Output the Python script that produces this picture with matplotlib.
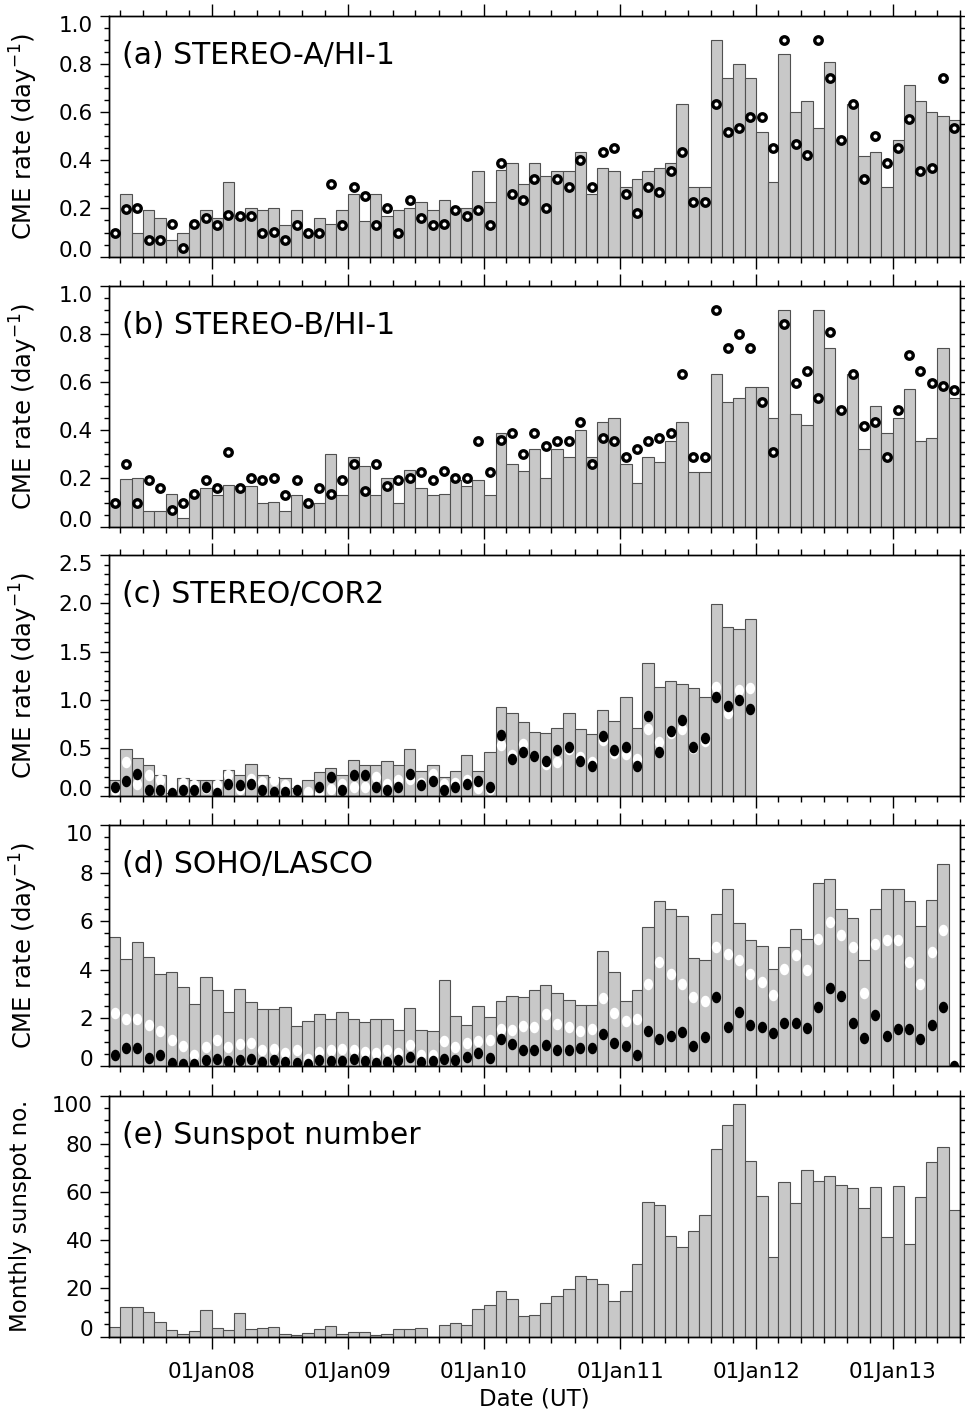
import numpy as np
import pandas as pd
import matplotlib
matplotlib.use("Agg")
import matplotlib.pyplot as plt
import matplotlib.dates as mdates
from matplotlib.path import Path
from matplotlib.transforms import Affine2D
from matplotlib.ticker import MultipleLocator, NullLocator, FormatStrFormatter

# monthly bins, Apr 2007 .. Jun 2013
months = pd.date_range("2007-04-01", "2013-06-01", freq="MS")

# HI-1 CME rates (day^-1); bars of (a) / circles of (b) and vice versa
hi1a = [0.10, 0.26, 0.10, 0.195, 0.16, 0.07, 0.10, 0.135, 0.195, 0.16,
        0.31, 0.16, 0.20, 0.195, 0.20, 0.13, 0.195, 0.10, 0.16, 0.137,
        0.195, 0.26, 0.147, 0.26, 0.167, 0.195, 0.20, 0.228, 0.195, 0.233,
        0.20, 0.20, 0.354, 0.228, 0.358, 0.387, 0.30, 0.387, 0.335, 0.354,
        0.354, 0.434, 0.26, 0.367, 0.354, 0.29, 0.323, 0.354, 0.367, 0.387,
        0.632, 0.29, 0.29, 0.898, 0.74, 0.798, 0.74, 0.516, 0.31, 0.84,
        0.598, 0.647, 0.532, 0.806, 0.484, 0.632, 0.419, 0.434, 0.29, 0.484,
        0.714, 0.647, 0.598, 0.582, 0.567]
hi1b = [0.10, 0.196, 0.20, 0.067, 0.067, 0.137, 0.035, 0.137, 0.16, 0.13,
        0.173, 0.167, 0.167, 0.10, 0.103, 0.067, 0.13, 0.10, 0.10, 0.30,
        0.13, 0.29, 0.252, 0.13, 0.20, 0.10, 0.235, 0.16, 0.13, 0.137,
        0.195, 0.167, 0.195, 0.13, 0.39, 0.26, 0.233, 0.323, 0.20, 0.323,
        0.29, 0.40, 0.29, 0.434, 0.452, 0.26, 0.18, 0.29, 0.268, 0.355,
        0.434, 0.228, 0.228, 0.632, 0.516, 0.533, 0.58, 0.58, 0.45, 0.90,
        0.466, 0.42, 0.898, 0.74, 0.484, 0.632, 0.323, 0.50, 0.387, 0.452,
        0.572, 0.355, 0.367, 0.74, 0.533]

# COR2 (Apr 2007 .. Dec 2011)
cor2_all = [0.17, 0.49, 0.40, 0.32, 0.22, 0.03, 0.19, 0.165, 0.165, 0.165,
            0.275, 0.22, 0.33, 0.22, 0.20, 0.19, 0.09, 0.17, 0.255, 0.295,
            0.22, 0.38, 0.32, 0.32, 0.36, 0.32, 0.49, 0.26, 0.32, 0.20,
            0.26, 0.43, 0.26, 0.455, 0.927, 0.865, 0.767, 0.67, 0.66, 0.708,
            0.865, 0.694, 0.649, 0.899, 0.778, 1.028, 0.708, 1.385, 1.128, 1.19,
            1.163, 1.118, 1.028, 1.997, 1.75, 1.736, 1.837]
cor2_black = [0.094, 0.156, 0.226, 0.066, 0.066, 0.03, 0.066, 0.066, 0.094, 0.03,
              0.128, 0.121, 0.128, 0.066, 0.042, 0.042, 0.066, np.nan, 0.094, 0.198,
              0.066, 0.215, 0.215, 0.094, 0.066, 0.094, 0.226, 0.121, 0.156, 0.066,
              0.094, 0.128, 0.156, 0.094, 0.639, 0.382, 0.458, 0.413, 0.365, 0.476,
              0.51, 0.365, 0.316, 0.625, 0.476, 0.51, 0.316, 0.833, 0.458, 0.674,
              0.795, 0.51, 0.608, 1.024, 0.934, 0.997, 0.903]
cor2_white = [0.06, 0.354, 0.128, 0.22, 0.165, np.nan, 0.14, 0.118, 0.08, 0.118,
              0.22, 0.076, 0.174, 0.146, 0.165, 0.118, 0.066, 0.045, 0.02, 0.07,
              0.128, 0.094, 0.10, 0.198, 0.13, 0.163, 0.18, 0.14, 0.235, 0.128,
              0.14, 0.17, 0.09, 0.07, 0.535, 0.424, 0.538, 0.42, 0.33, 0.354,
              0.49, 0.406, 0.354, 0.58, 0.45, 0.441, 0.389, 0.701, 0.563, 0.66,
              0.694, 0.50, 0.573, 1.135, 0.865, 1.10, 1.125]

# LASCO (bars to May 2013, dots to Jun 2013)
lasco_all = [5.35, 4.43, 5.15, 4.53, 3.82, 3.89, 3.26, 2.56, 3.71, 3.14,
             2.26, 3.21, 2.64, 2.35, 2.35, 2.44, 1.67, 1.86, 2.15, 1.93,
             2.25, 1.96, 1.81, 1.93, 1.94, 1.50, 2.39, 1.50, 1.47, 3.56,
             2.08, 1.71, 2.47, 2.04, 2.68, 2.92, 2.86, 3.17, 3.36, 3.03,
             2.72, 2.54, 2.54, 4.78, 3.89, 2.68, 3.17, 5.75, 6.86, 6.51,
             6.24, 4.47, 4.39, 6.32, 7.33, 5.92, 5.21, 5.00, 4.04, 4.94,
             5.69, 5.28, 7.60, 7.78, 6.53, 6.13, 4.39, 6.51, 7.33, 7.33,
             6.86, 5.79, 6.88, 8.40]
lasco_white = [2.18, 1.97, 1.97, 1.69, 1.46, 1.07, 0.82, 0.47, 0.79, 1.07,
               0.79, 0.93, 0.96, 0.65, 0.72, 0.54, 0.65, 0.31, 0.58, 0.65,
               0.72, 0.65, 0.58, 0.54, 0.65, 0.54, 0.89, 0.47, 0.44, 1.04,
               0.79, 0.97, 1.04, 1.07, 1.55, 1.49, 1.65, 1.63, 2.15, 1.76,
               1.63, 1.46, 1.53, 2.81, 2.18, 1.86, 1.93, 3.40, 4.31, 3.82,
               3.40, 2.88, 2.69, 4.92, 4.64, 4.38, 3.82, 3.50, 2.94, 4.01,
               4.61, 3.99, 5.28, 5.97, 5.42, 4.94, 3.04, 5.06, 5.24, 5.21,
               4.31, 3.40, 4.75, 5.63]
lasco_black = [0.47, 0.76, 0.76, 0.35, 0.47, 0.14, 0.10, 0.10, 0.26, 0.31,
               0.21, 0.26, 0.31, 0.17, 0.26, 0.17, 0.14, 0.07, 0.26, 0.21,
               0.21, 0.31, 0.21, 0.14, 0.17, 0.26, 0.38, 0.17, 0.21, 0.31,
               0.24, 0.38, 0.54, 0.35, 1.10, 0.93, 0.65, 0.65, 0.86, 0.65,
               0.68, 0.75, 0.75, 1.31, 0.96, 0.82, 0.47, 1.46, 1.14, 1.26,
               1.43, 0.82, 1.21, 2.88, 1.60, 2.25, 1.69, 1.63, 1.38, 1.79,
               1.79, 1.56, 2.43, 3.25, 2.90, 1.79, 1.17, 2.11, 1.26, 1.53,
               1.53, 1.14, 1.69, 2.43, 0.0]

# monthly sunspot number
sunspot = [3.9, 12.1, 12.1, 10.1, 5.9, 2.8, 1.1, 2.1, 10.8, 3.4,
           2.8, 9.7, 3.3, 3.4, 3.9, 1.1, 0.6, 1.4, 3.3, 4.4,
           1.1, 1.7, 1.7, 0.8, 1.1, 3.3, 3.3, 3.6, 0.0, 4.8,
           5.5, 4.6, 11.3, 13.1, 19.0, 15.6, 8.3, 8.8, 13.7, 16.6,
           19.7, 25.2, 23.7, 21.8, 14.6, 19.0, 30.1, 55.9, 54.5, 41.8,
           37.2, 43.9, 50.5, 77.9, 87.9, 96.4, 73.0, 58.5, 32.8, 64.1,
           55.6, 69.0, 64.6, 66.6, 62.8, 61.5, 53.4, 61.9, 41.1, 62.6,
           38.2, 57.9, 72.4, 78.6, 52.6]

x0 = mdates.date2num(months.to_pydatetime())
wd = months.days_in_month.values.astype(float)
xc = x0 + wd / 2
xend = mdates.date2num(pd.Timestamp("2013-07-01").to_pydatetime())

BAR = "#c8c8c8"
EDGE = "#505050"
oval = Path.unit_circle().transformed(Affine2D().scale(0.8, 1.0))

W, H = 965, 1413
fig = plt.figure(figsize=(W / 100, H / 100), dpi=100)
tops = [15.6, 285.7, 555.2, 825.0, 1095.5]
ph = 241
left, right = 109, 960
axs = [fig.add_axes([left / W, 1 - (t + ph) / H, (right - left) / W, ph / H]) for t in tops]


def bars(ax, vals):
    n = len(vals)
    ax.bar(x0[:n], vals, width=wd[:n], align="edge", color=BAR,
           edgecolor=EDGE, linewidth=0.8, zorder=1)


def rings(ax, vals):
    n = len(vals)
    ax.plot(xc[:n], vals, ls="none", marker="o", ms=5.4, mew=2.4,
            mfc="white", mec="black", zorder=3)


def dots(ax, vals, col, z):
    n = len(vals)
    ax.plot(xc[:n], vals, ls="none", marker=oval, ms=8.3, mew=0,
            mfc=col, mec=col, zorder=z)


bars(axs[0], hi1a)
rings(axs[0], hi1b)
bars(axs[1], hi1b)
rings(axs[1], hi1a)
bars(axs[2], cor2_all)
dots(axs[2], cor2_white, "white", 2)
dots(axs[2], cor2_black, "black", 3)
bars(axs[3], lasco_all)
dots(axs[3], lasco_white, "white", 2)
dots(axs[3], lasco_black, "black", 3)
bars(axs[4], sunspot)

titles = ["(a) STEREO-A/HI-1", "(b) STEREO-B/HI-1", "(c) STEREO/COR2",
          "(d) SOHO/LASCO", "(e) Sunspot number"]
ymax = [1.0, 1.0, 2.5, 10, 100]
ystep = [0.2, 0.2, 0.5, 2, 20]
yminor = [0.05, 0.05, 0.1, 0.5, 5]
yfmt = ["%.1f", "%.1f", "%.1f", "%d", "%d"]

for k, ax in enumerate(axs):
    ax.set_xlim(x0[0], xend)
    ax.set_ylim(0, ymax[k])
    ax.xaxis.set_major_locator(mdates.YearLocator())
    ax.xaxis.set_minor_locator(mdates.MonthLocator(bymonth=[3, 5, 7, 9, 11]))
    ax.xaxis.set_major_formatter(mdates.DateFormatter("%d%b%y"))
    ax.tick_params(axis="x", which="both", direction="out", top=True,
                   bottom=True, width=1, labelsize=15.5)
    ax.tick_params(axis="x", which="major", length=8.3, pad=10)
    ax.tick_params(axis="x", which="minor", length=4.3)
    if k < 4:
        ax.tick_params(axis="x", labelbottom=False)

    ax.set_yticks(np.arange(0, ymax[k] + 1e-9, ystep[k]))
    ax.yaxis.set_minor_locator(MultipleLocator(yminor[k]))
    ax.yaxis.set_major_formatter(FormatStrFormatter(yfmt[k]))
    ax.tick_params(axis="y", which="both", direction="out", width=1, labelsize=15.5)
    ax.tick_params(axis="y", which="major", length=6.5, pad=5)
    ax.tick_params(axis="y", which="minor", length=3.6)
    for s in ax.spines.values():
        s.set_linewidth(1.0)

    # short ticks on the right side
    tw = ax.twinx()
    tw.set_ylim(0, ymax[k])
    tw.yaxis.set_major_locator(MultipleLocator(yminor[k]))
    tw.yaxis.set_minor_locator(NullLocator())
    tw.tick_params(axis="y", direction="out", length=3.6, width=1, labelright=False)
    for s in tw.spines.values():
        s.set_linewidth(1.0)

    ticks = ax.yaxis.get_major_ticks()
    ticks[0].label1.set_verticalalignment("baseline")
    ticks[-1].label1.set_verticalalignment("top")

    ax.text(0.015, 0.80, titles[k], transform=ax.transAxes, fontsize=21.5,
            va="baseline", ha="left", zorder=5)

    if k < 4:
        ax.set_ylabel("CME rate (day$^{-1}$)", fontsize=17.5)
        ax.yaxis.set_label_coords(-0.081, 0.5)
    else:
        ax.set_ylabel("Monthly sunspot no.", fontsize=16.5)
        ax.yaxis.set_label_coords(-0.0905, 0.5)

fig.text(534.5 / W, 1 - 1405 / H, "Date (UT)", ha="center", va="baseline", fontsize=16.5)

fig.savefig("out.png", dpi=100)
